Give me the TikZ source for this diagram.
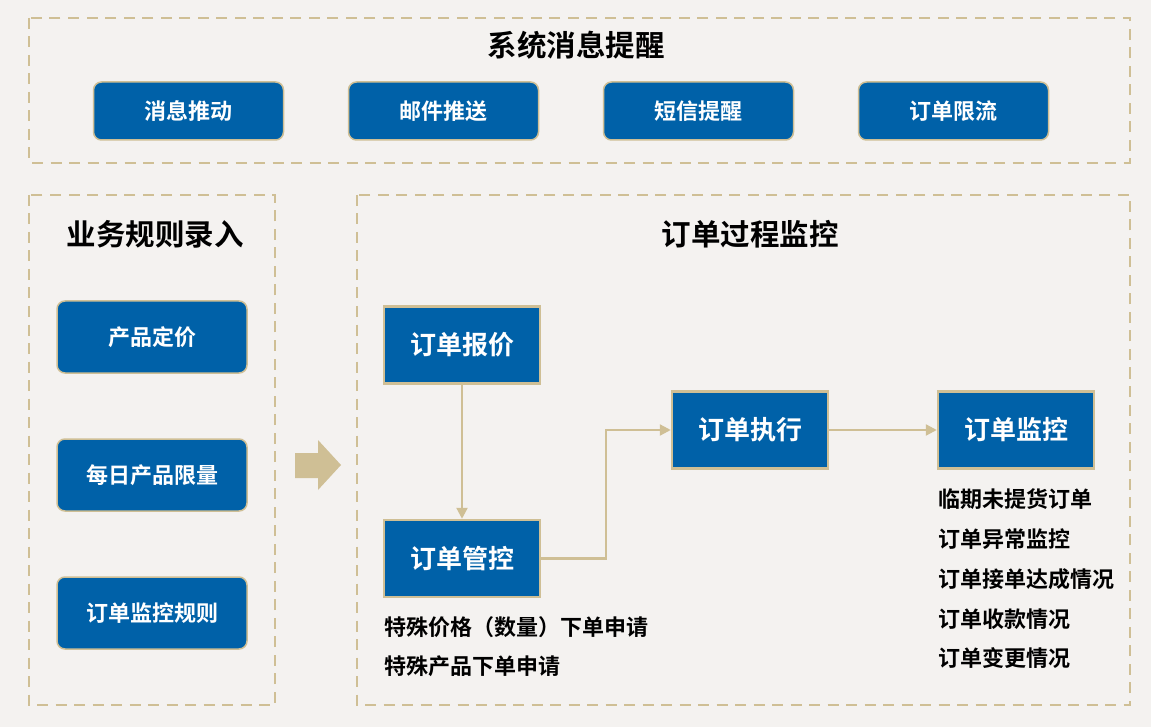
\documentclass[tikz,border=0pt]{standalone}
\usepackage{fontspec}
\newfontfamily\cjk{Noto Sans CJK SC}[BoldFont={Noto Sans CJK SC Bold}]
\usetikzlibrary{arrows.meta}
\definecolor{bg}{HTML}{F4F2F0}
\definecolor{tan}{HTML}{CFBF95}
\definecolor{blu}{HTML}{0061A8}
\begin{document}
\begin{tikzpicture}[x=1pt,y=-1pt,
  frame/.style={draw=tan,line width=2.5pt,dash pattern=on 11pt off 7.5pt},
  title/.style={font=\cjk\bfseries\fontsize{29.5}{32}\selectfont,text=black},
  btn/.style={draw=tan,line width=1.5pt,fill=blu,rounded corners=8pt,minimum width=190pt,minimum height=58pt,text=white,font=\cjk\bfseries\fontsize{22}{25}\selectfont,inner sep=0pt},
  sq/.style={draw=tan,line width=2.5pt,fill=blu,minimum width=156pt,minimum height=77pt,text=white,font=\cjk\bfseries\fontsize{26}{29}\selectfont,inner sep=0pt},
  note/.style={font=\cjk\bfseries\fontsize{22}{25}\selectfont,text=black,anchor=west,inner sep=0pt},
  conn/.style={draw=tan,line width=2.3pt,-{Triangle[length=11pt,width=11pt]}}
]
\fill[bg] (0,0) rectangle (1151,727);
\useasboundingbox (0,0) rectangle (1151,727);
% frames
\draw[frame] (29,18) rectangle (1130,163);
\draw[frame] (29,195) rectangle (275,705);
\draw[frame] (357,195) rectangle (1130,705);
% titles
\node[title] (t1) at (576,45) {系统消息提醒};
\node[title] (t2) at (155,234) {业务规则录入};
\node[title] (t3) at (750,234) {订单过程监控};
% top buttons
\node[btn] (b1) at (188.5,111) {消息推动};
\node[btn] (b2) at (443.5,111) {邮件推送};
\node[btn] (b3) at (698.5,111) {短信提醒};
\node[btn] (b4) at (953.5,111) {订单限流};
% left buttons
\node[btn,minimum height=72pt] (l1) at (152,337) {产品定价};
\node[btn,minimum height=72pt] (l2) at (152,475) {每日产品限量};
\node[btn,minimum height=72pt] (l3) at (152,613) {订单监控规则};
% big arrow
\fill[tan] (295,453) -- (318,453) -- (318,440) -- (341,465) -- (318,490) -- (318,478) -- (295,478) -- cycle;
% process nodes
\node[sq] (q1) at (462,345) {订单报价};
\node[sq] (q2) at (462,558.5) {订单管控};
\node[sq] (q3) at (750,430) {订单执行};
\node[sq] (q4) at (1016,430) {订单监控};
\draw[conn] (q1.south) -- (q2.north);
\draw[conn] (q2.east) -- (606,558.5) |- (q3.west);
\draw[conn] (q3.east) -- (q4.west);
% notes
\node[note] (n1) at (384,627) {特殊价格（数量）下单申请};
\node[note] (n2) at (384,666) {特殊产品下单申请};
\node[note] (m1) at (938,499) {临期未提货订单};
\node[note] (m2) at (938,539) {订单异常监控};
\node[note] (m3) at (938,579) {订单接单达成情况};
\node[note] (m4) at (938,619) {订单收款情况};
\node[note] (m5) at (938,658) {订单变更情况};
\end{tikzpicture}
\end{document}
